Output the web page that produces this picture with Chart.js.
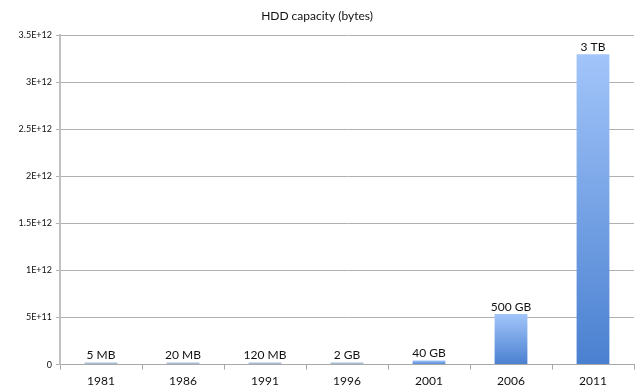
<!DOCTYPE html>
<html>
<head>
<meta charset="utf-8">
<script src="https://cdn.jsdelivr.net/npm/chart.js@4/dist/chart.umd.min.js"></script>
<style>
html,body{margin:0;padding:0;background:#fff;}
#wrap{width:640px;height:392px;}
</style>
</head>
<body>
<div id="wrap"><canvas id="c" width="640" height="392"></canvas></div>
<script>
const years = ['1981','1986','1991','1996','2001','2006','2011'];
const capacityBytes = [5242880, 20971520, 125829120, 2147483648, 42949672960, 536870912000, 3298534883328];
const capacityLabels = ['5 MB','20 MB','120 MB','2 GB','40 GB','500 GB','3 TB'];
const yTickLabels = ['0','5E+11','1E+12','1.5E+12','2E+12','2.5E+12','3E+12','3.5E+12'];
const chartTitle = 'HDD capacity (bytes)';

const FONT = 'Lato, "Open Sans", "Liberation Sans", sans-serif';

const barLabels = {
  id: 'barLabels',
  afterDatasetsDraw(chart) {
    const ctx = chart.ctx;
    const meta = chart.getDatasetMeta(0);
    ctx.save();
    ctx.font = '12px ' + FONT;
    ctx.fillStyle = '#111';
    ctx.textAlign = 'center';
    ctx.textBaseline = 'bottom';
    meta.data.forEach((el, i) => {
      ctx.fillText(capacityLabels[i], el.x, el.y - 1);
    });
    ctx.restore();
  }
};

function barFill(c) {
  const chart = c.chart;
  if (!chart.chartArea || c.type !== 'data' || !chart.scales.y) return '#7aa6e8';
  const y = chart.scales.y;
  const bottom = y.getPixelForValue(0);
  let top = y.getPixelForValue(c.raw);
  if (bottom - top < 4) return '#a9bcd6';
  const g = chart.ctx.createLinearGradient(0, top, 0, bottom);
  g.addColorStop(0, '#a2c5fa');
  g.addColorStop(1, '#4a80d0');
  return g;
}

new Chart(document.getElementById('c'), {
  type: 'bar',
  data: {
    labels: years,
    datasets: [{
      data: capacityBytes,
      backgroundColor: barFill,
      borderWidth: 0,
      barPercentage: 0.4,
      categoryPercentage: 1.0,
      minBarLength: 2
    }]
  },
  options: {
    responsive: false,
    animation: false,
    devicePixelRatio: 1,
    layout: { padding: { left: 0, right: 6, top: 0, bottom: 0 } },
    plugins: {
      legend: { display: false },
      tooltip: { enabled: false },
      title: {
        display: true,
        text: chartTitle,
        color: '#111',
        font: { family: FONT, size: 12, weight: 'normal' },
        padding: { top: 9, bottom: 12 }
      }
    },
    scales: {
      x: {
        offset: true,
        grid: { offset: true, drawOnChartArea: false, drawTicks: true, tickLength: 5, color: '#a8a8a8' },
        border: { display: true, color: '#a8a8a8', width: 1 },
        ticks: { color: '#111', font: { family: FONT, size: 12 }, padding: 4 }
      },
      y: {
        min: 0,
        max: 3.5e12,
        afterFit(s) { s.width = 60; },
        afterBuildTicks(s) {
          s.ticks = yTickLabels.map((t, i) => ({ value: i * 5e11 }));
        },
        grid: { color: '#b0b0b0', lineWidth: 1, tickLength: 4, drawTicks: true },
        border: { display: true, color: '#c0c0c0', width: 2 },
        ticks: {
          color: '#111',
          font: { family: FONT, size: 9 },
          padding: 4,
          callback: (v, i) => yTickLabels[i]
        }
      }
    }
  },
  plugins: [barLabels]
});
</script>
</body>
</html>
